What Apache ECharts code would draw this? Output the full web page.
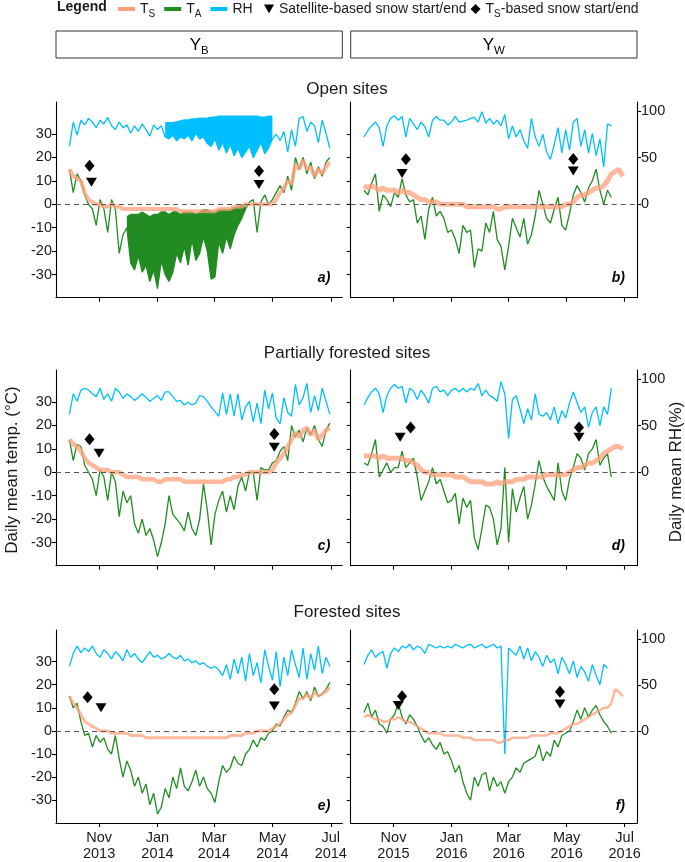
<!DOCTYPE html>
<html>
<head>
<meta charset="utf-8">
<script src="https://cdn.jsdelivr.net/npm/echarts@6/dist/echarts.min.js"></script>
<style>
  html, body { margin: 0; padding: 0; background: #fff; }
  #main { width: 685px; height: 862px; }
</style>
</head>
<body>
<div id="main"></div>
<script>
// values, one every 4th day starting 1 Oct
const stepDays = 4;
const startYB = [2013, 9, 1];
const startYW = [2015, 9, 1];

// ---- Y_B, open sites (a)
const taA = [15, 5, 13, 10, 4, 0, -2, -9, 2, -2, -12, 2, -2, -21, -13,
  -10, -25, -28, -22, -29, -26, -33, -28, -36, -24, -30, -33, -29, -21, -25, -18, -26, -15, -24, -21, -14, -20, -32, -31, -16, -21, -14, -19, -13, -9, -6, -2,
  1, 2, -12, 1, 4, 0, 2, 5, 8, 5, 12, 6, 20, 15, 20, 13, 18, 11, 16, 12, 18, 20];
const taAUpper = [-5, -4, -4, -4, -3, -4, -5, -4, -4, -3, -3, -4, -3, -3, -4, -3, -3, -3, -4, -3, -2, -2, -3, -3, -2, -2, -2, -2, -1, -1, 0, 0];
const tsA = [15, 12, 11, 10, 5, 2, 1, 0, 0, -1, -1, 0, -1, -1, -2, -2, -2, -2, -2, -2,
  -2, -2, -2, -2, -2, -2, -2, -2, -2, -3, -3, -3, -3, -3, -3, -3, -3, -3, -3, -2,
  -2, -2, -2, -1, -1, -1, 0, 0, 0, 0, 0, 0, 0, 0, 2, 5, 7, 10, 9, 17,
  15, 19, 15, 16, 12, 15, 13, 16, 18];
const rhA = [62, 88, 74, 90, 85, 92, 88, 82, 90, 86, 93, 84, 80, 88, 82, 85, 76, 84, 78, 86,
  80, 73, 85, 80, 84, 72, 70, 74, 68, 72, 70, 74, 68, 76, 70, 72, 65, 62, 70, 58,
  66, 55, 64, 52, 60, 50, 56, 62, 50, 58, 66, 54, 60, 70, 75, 68, 78, 56, 80, 62,
  92, 94, 78, 88, 84, 66, 90, 76, 60];
const rhAUpper = [88, 88, 88, 89, 90, 91, 91, 92, 92, 93, 93, 93, 94, 94, 95, 95, 95, 95, 95, 95, 95, 95, 95, 95, 95, 94, 94, 95, 95];
const satA = [['2013-10-24', 9.4], ['2014-04-17', 8.5]];
const tsSnowA = [['2013-10-22', 16.5], ['2014-04-17', 14.2]];

// ---- Y_W, open sites (b)
const taB = [6, 4, 9, 13, -3, 4, 2, -1, 5, 3, 11, 4, 1, 2, -8, -5, -15, -2, 3, -5,
  -3, -6, -12, -11, -15, -21, -9, -12, -11, -27, -19, -20, -8, -12, -3, -15, -18, -28, -18, -6,
  -10, -14, -6, -17, -13, -5, 6, 0, -6, -8, -2, 3, -9, -11, -4, 4, 8, 5, 1, 7,
  10, 15, 6, 0, 6, 3];
const tsB = [8, 7, 8, 7, 6, 7, 6, 6, 6, 5, 6, 5, 5, 4, 3, 2, 2, 1, 1, 1,
  0, 0, 0, 0, 0, 0, 0, -1, -1, -1, -1, -1, -1, -1, -1, -2, -2, -1, -1, -1,
  -1, -1, -1, -1, -1, -1, -1, -1, -1, -1, -1, -1, -1, 0, 0, 1, 3, 4, 4, 5,
  6, 7, 7, 8, 10, 13, 14, 15, 12];
const rhB = [72, 79, 84, 88, 82, 62, 84, 92, 95, 90, 94, 72, 92, 86, 80, 88, 83, 72, 90, 94,
  90, 90, 85, 88, 94, 88, 89, 90, 92, 93, 88, 99, 87, 92, 86, 90, 84, 96, 70, 84,
  72, 80, 68, 60, 92, 72, 62, 75, 56, 48, 64, 82, 55, 80, 58, 88, 92, 62, 80, 55,
  76, 52, 70, 40, 86, 84];
const satB = [['2015-11-10', 13.2], ['2016-05-08', 14.2]];
const tsSnowB = [['2015-11-14', 19.2], ['2016-05-08', 19.4]];

// ---- Y_B, partially forested (c)
const taC = [14, 5, 12, 11, 3, 0, -3, -10, 1, -2, -12, 0, -4, -19, -8, -13, -10, -22, -26, -20,
  -27, -24, -29, -36, -30, -22, -10, -18, -20, -22, -25, -17, -24, -27, -20, -5, -16, -31, -18, -12,
  -8, -17, -10, -16, -6, -2, -8, 0, 0, -12, 2, 1, 1, 4, 5, 9, 11, 5, 20, 15,
  18, 13, 19, 16, 20, 14, 11, 18, 21];
const tsC = [14, 12, 11, 9, 6, 4, 3, 2, 1, 1, 1, 0, 0, 0, -1, -2, -2, -2, -2, -3,
  -3, -3, -3, -4, -4, -3, -3, -3, -3, -3, -4, -4, -4, -4, -4, -4, -4, -4, -4, -4,
  -4, -3, -3, -2, -2, -1, -1, 0, 0, 0, 0, 0, 0, 1, 4, 6, 8, 11, 14, 17,
  15, 18, 19, 16, 18, 14, 16, 18, 19];
const rhC = [62, 84, 76, 88, 90, 88, 84, 81, 90, 78, 84, 76, 90, 86, 79, 84, 81, 77, 80, 84,
  80, 76, 79, 82, 77, 86, 86, 81, 76, 77, 72, 75, 72, 74, 82, 81, 76, 70, 65, 60,
  85, 62, 84, 60, 84, 56, 70, 76, 54, 74, 52, 88, 68, 85, 58, 52, 80, 64, 60, 94,
  72, 80, 95, 64, 82, 66, 90, 76, 62];
const satC = [['2013-11-01', 8.1], ['2014-05-03', 10.7]];
const tsSnowC = [['2013-10-22', 14.1], ['2014-05-03', 16.4]];

// ---- Y_W, partially forested (d)
const taD = [4, 3, 8, 14, -2, 1, 4, 0, 2, 2, 9, 2, 4, 6, -2, -12, -8, -4, 2, -5,
  -3, -8, -13, -12, -9, -22, -11, -15, -12, -28, -33, -24, -14, -15, -20, -31, -24, 2, -30, -7,
  -17, -11, -6, -20, -14, -5, 5, -2, -6, -9, -12, 4, -8, -12, -3, 2, 8, 6, 1, 8,
  10, 14, 3, 6, 8, -2];
const tsD = [7, 7, 7, 7, 6, 7, 6, 6, 6, 6, 6, 5, 5, 4, 3, 1, 0, 0, -1, -1,
  -1, -1, -1, -1, -2, -2, -2, -3, -4, -4, -4, -4, -5, -5, -5, -4, -5, -4, -4, -4,
  -3, -3, -3, -2, -2, -2, -2, -2, -1, -1, -1, -1, -1, -1, 0, 1, 2, 2, 3, 4,
  4, 5, 6, 8, 9, 10, 11, 11, 10];
const rhD = [72, 80, 86, 90, 84, 64, 82, 90, 94, 90, 92, 74, 90, 87, 78, 88, 82, 74, 90, 92,
  86, 88, 82, 88, 90, 86, 90, 86, 90, 88, 95, 82, 88, 82, 80, 76, 97, 84, 36, 78,
  82, 68, 52, 68, 56, 84, 62, 60, 64, 56, 70, 52, 66, 58, 74, 86, 75, 64, 70, 48,
  64, 70, 50, 70, 62, 90];
const satD = [['2015-11-08', 15], ['2016-05-14', 15]];
const tsSnowD = [['2015-11-19', 19.1], ['2016-05-14', 19.1]];

// ---- Y_B, forested (e)
const taE = [15, 10, 12, 4, -2, -1, -7, -2, -5, -3, -8, -10, -2, -12, -20, -13, -17, -24, -20, -27,
  -23, -32, -27, -36, -33, -25, -29, -20, -25, -16, -24, -26, -22, -17, -24, -20, -25, -27, -31, -22,
  -15, -18, -16, -11, -14, -15, -10, -8, -4, -7, -3, -4, -1, 0, 3, 2, 6, 9, 8, 12,
  17, 14, 17, 13, 19, 15, 16, 18, 21];
const tsE = [15, 12, 10, 7, 4, 3, 2, 1, 0, 0, 0, -1, -1, -1, -1, -1, -2, -2, -2, -2,
  -3, -3, -3, -3, -3, -3, -3, -3, -3, -3, -3, -3, -3, -3, -3, -3, -3, -3, -3, -3,
  -3, -3, -2, -2, -2, -2, -1, -1, -1, 0, 0, 0, 0, 1, 2, 3, 5, 7, 8, 11,
  14, 14, 16, 14, 17, 15, 16, 17, 19];
const rhE = [70, 84, 92, 85, 90, 86, 92, 84, 80, 88, 84, 78, 86, 82, 76, 88, 80, 84, 78, 74,
  80, 86, 80, 82, 78, 80, 84, 80, 78, 82, 76, 78, 74, 76, 72, 74, 70, 68, 70, 66,
  60, 72, 56, 78, 62, 80, 54, 84, 60, 74, 52, 88, 70, 55, 86, 48, 80, 60, 88, 72,
  58, 90, 56, 84, 66, 92, 62, 80, 70];
const satE = [['2013-11-03', 10], ['2014-05-03', 10.8]];
const tsSnowE = [['2013-10-20', 14.6], ['2014-05-03', 18]];

// ---- Y_W, forested (f)
const taF = [8, 12, 6, 9, 3, 2, -1, 5, 7, 12, 6, 3, 7, 5, 2, -2, -5, -3, -6, -8,
  -5, -10, -9, -13, -18, -15, -22, -27, -30, -20, -24, -19, -18, -26, -20, -24, -22, -27, -22, -20,
  -16, -18, -14, -13, -12, -11, -6, -13, -9, -11, -4, -7, -2, -1, 0, 4, 9, 5, 10, 6,
  9, 11, 7, 4, 2, -1];
const tsF = [6, 7, 6, 5, 5, 4, 4, 5, 5, 6, 5, 4, 4, 3, 2, 1, 0, -1, -1, -1,
  -1, -2, -2, -2, -2, -2, -3, -3, -3, -4, -4, -4, -4, -4, -4, -5, -5, -4, -4, -3,
  -3, -3, -3, -3, -2, -2, -2, -2, -2, -1, -1, -1, 0, 1, 2, 3, 3, 4, 5, 6,
  7, 8, 9, 10, 10, 12, 18, 17, 15];
const rhF = [72, 82, 88, 80, 84, 86, 68, 84, 90, 86, 92, 90, 94, 88, 92, 90, 84, 94, 92, 90,
  92, 90, 92, 90, 94, 92, 90, 93, 94, 90, 92, 94, 90, 92, 94, 90, 92, -25, 90, 86,
  82, 92, 78, 90, 76, 86, 80, 70, 82, 74, 78, 62, 80, 72, 62, 76, 58, 70, 64, 54,
  72, 60, 50, 72, 68];
const satF = [['2015-11-06', 11], ['2016-04-24', 11.7]];
const tsSnowF = [['2015-11-10', 15], ['2016-04-24', 17]];

const tempTicks = [-30, -20, -10, 0, 10, 20, 30];
const rhTicks = [0, 50, 100];
const monthNames = ['Jan', 'Feb', 'Mar', 'Apr', 'May', 'Jun', 'Jul', 'Aug', 'Sep', 'Oct', 'Nov', 'Dec'];

// layout
const FONT = '"Liberation Sans", Arial, sans-serif';
const colLeft = [56, 350.7];
const colWidth = 286.3;
const rowTop = [102, 370, 630];
const rowHeight = 195.7;
const TEMP_MIN = -39.9, TEMP_MAX = 43.7;
const RH_MIN = -100, RH_MAX = 109.5;

const C_TS = '#FFA07A', C_TA = '#228B22', C_RH = '#00BFFF';

function toTime(s) {
  const p = s.split('-').map(Number);
  return new Date(p[0], p[1] - 1, p[2]).getTime();
}
function dated(start, values, offset) {
  offset = offset || 0;
  return values.map(function (v, i) {
    return [new Date(start[0], start[1], start[2] + (i + offset) * stepDays).getTime(), v];
  });
}
function marks(list) {
  return list.map(function (m) { return [toTime(m[0]), m[1]]; });
}

const panels = [
  { key: 'a', row: 0, col: 0, start: startYB, ts: tsA, ta: taA, rh: rhA, sat: satA, tsSnow: tsSnowA, tsWidth: 4,
    taBand: { from: 15, upper: taAUpper }, rhBand: { from: 25, upper: rhAUpper } },
  { key: 'b', row: 0, col: 1, start: startYW, ts: tsB, ta: taB, rh: rhB, sat: satB, tsSnow: tsSnowB, tsWidth: 5 },
  { key: 'c', row: 1, col: 0, start: startYB, ts: tsC, ta: taC, rh: rhC, sat: satC, tsSnow: tsSnowC, tsWidth: 4.5 },
  { key: 'd', row: 1, col: 1, start: startYW, ts: tsD, ta: taD, rh: rhD, sat: satD, tsSnow: tsSnowD, tsWidth: 5 },
  { key: 'e', row: 2, col: 0, start: startYB, ts: tsE, ta: taE, rh: rhE, sat: satE, tsSnow: tsSnowE, tsWidth: 3 },
  { key: 'f', row: 2, col: 1, start: startYW, ts: tsF, ta: taF, rh: rhF, sat: satF, tsSnow: tsSnowF, tsWidth: 2.5 }
];

const windows = [
  [toTime('2013-09-17'), toTime('2014-07-13')],
  [toTime('2015-09-17'), toTime('2016-07-14')]
];
const monthTicks = [
  ['2013-11-01', '2014-01-01', '2014-03-01', '2014-05-01', '2014-07-01'].map(toTime),
  ['2015-11-01', '2016-01-01', '2016-03-01', '2016-05-01', '2016-07-01'].map(toTime)
];

// filled envelope between the drawn line (lower edge) and the read upper edge
function band(name, p, i, yIdx, lowerAll, b, color) {
  const lower = lowerAll.slice(b.from, b.from + b.upper.length);
  const pts = dated(p.start, lower, b.from).map(function (d, j) { return [d[0], d[1], b.upper[j]]; });
  return {
    name: name, type: 'custom', xAxisIndex: i, yAxisIndex: yIdx, data: pts, silent: true,
    encode: { x: 0, y: [1, 2] },
    renderItem: function (params, api) {
      if (params.dataIndex !== 0) return null;
      const top = pts.map(function (q) { return api.coord([q[0], q[2]]); });
      const bottom = pts.slice().reverse().map(function (q) { return api.coord([q[0], q[1]]); });
      return { type: 'polygon', shape: { points: top.concat(bottom) }, style: { fill: color } };
    }
  };
}

const axisLineStyle = { color: '#000', width: 1.1 };
const grid = [], xAxis = [], yAxis = [], series = [], graphic = [];

panels.forEach(function (p, i) {
  grid.push({ left: colLeft[p.col], top: rowTop[p.row], width: colWidth, height: rowHeight });
  xAxis.push({
    gridIndex: i, type: 'value', min: windows[p.col][0], max: windows[p.col][1],
    axisLine: { show: true, onZero: false, lineStyle: axisLineStyle },
    axisTick: { show: true, length: 4, customValues: monthTicks[p.col], lineStyle: axisLineStyle },
    axisLabel: {
      show: p.row === 2, customValues: monthTicks[p.col], fontSize: 14.5, fontFamily: FONT, color: '#1a1a1a',
      lineHeight: 16, margin: 7, hideOverlap: false,
      formatter: function (v) { const d = new Date(v); return monthNames[d.getMonth()] + '\n' + d.getFullYear(); }
    },
    splitLine: { show: false }
  });
  yAxis.push({
    gridIndex: i, type: 'value', min: TEMP_MIN, max: TEMP_MAX,
    axisLine: { show: true, onZero: false, lineStyle: axisLineStyle },
    axisTick: { show: true, length: 4, customValues: tempTicks, lineStyle: axisLineStyle },
    axisLabel: { show: p.col === 0, customValues: tempTicks, fontSize: 14.5, fontFamily: FONT, color: '#1a1a1a', margin: 4 },
    splitLine: { show: false }
  });
  yAxis.push({
    gridIndex: i, type: 'value', position: 'right', min: RH_MIN, max: RH_MAX, show: p.col === 1,
    axisLine: { show: true, onZero: false, lineStyle: axisLineStyle },
    axisTick: { show: true, length: 4, customValues: rhTicks, lineStyle: axisLineStyle },
    axisLabel: { customValues: rhTicks, fontSize: 14.5, fontFamily: FONT, color: '#1a1a1a', margin: 4 },
    splitLine: { show: false }
  });

  const tIdx = 2 * i, rIdx = 2 * i + 1;
  if (p.rhBand) series.push(band('RH band', p, i, rIdx, p.rh, p.rhBand, C_RH));
  series.push({
    name: 'RH', type: 'line', xAxisIndex: i, yAxisIndex: rIdx, data: dated(p.start, p.rh),
    symbol: 'none', color: C_RH, lineStyle: { width: 1.3 }
  });
  if (p.taBand) series.push(band('TA band', p, i, tIdx, p.ta, p.taBand, C_TA));
  series.push({
    name: 'TA', type: 'line', xAxisIndex: i, yAxisIndex: tIdx, data: dated(p.start, p.ta),
    symbol: 'none', color: C_TA, lineStyle: { width: 1.3 }
  });
  series.push({
    name: 'Ts', type: 'line', xAxisIndex: i, yAxisIndex: tIdx, data: dated(p.start, p.ts),
    symbol: 'none', color: C_TS, lineStyle: { width: p.tsWidth, opacity: 0.75 },
    markLine: {
      silent: true, symbol: 'none', label: { show: false },
      lineStyle: { color: '#555', type: [5, 4], width: 1 },
      data: [{ yAxis: 0 }]
    }
  });
  series.push({
    name: 'sat', type: 'scatter', xAxisIndex: i, yAxisIndex: tIdx, data: marks(p.sat),
    symbol: 'triangle', symbolRotate: 180, symbolSize: [11, 9], itemStyle: { color: '#000', opacity: 1 }, z: 5
  });
  series.push({
    name: 'tsSnow', type: 'scatter', xAxisIndex: i, yAxisIndex: tIdx, data: marks(p.tsSnow),
    symbol: 'diamond', symbolSize: [10, 12], itemStyle: { color: '#000', opacity: 1 }, z: 5
  });

  // panel letter
  graphic.push({
    type: 'text', x: colLeft[p.col] + colWidth - 12, y: rowTop[p.row] + 176,
    style: { text: p.key + ')', font: 'italic bold 14px ' + FONT, fill: '#000', align: 'right', verticalAlign: 'middle' }
  });
});

const subRich = {
  m: { fontSize: 14, fontFamily: FONT, color: '#1a1a1a', lineHeight: 20 },
  s: { fontSize: 10, fontFamily: FONT, color: '#1a1a1a', lineHeight: 10, verticalAlign: 'bottom' }
};
const stripRich = {
  m: { fontSize: 17, fontFamily: FONT, color: '#1a1a1a', lineHeight: 24 },
  s: { fontSize: 11.5, fontFamily: FONT, color: '#1a1a1a', lineHeight: 12, verticalAlign: 'bottom' }
};
const legendNames = {
  'Ts': '{m|T}{s|S}', 'TA': '{m|T}{s|A}', 'RH': '{m|RH}',
  'sat': '{m|Satellite-based snow start/end}', 'tsSnow': '{m|T}{s|S}{m|-based snow start/end}'
};

// strips and titles
[['B', 0], ['W', 1]].forEach(function (s) {
  graphic.push({
    type: 'rect', shape: { x: colLeft[s[1]], y: 31, width: colWidth, height: 27 },
    style: { fill: '#fff', stroke: '#333', lineWidth: 1 }
  });
  graphic.push({
    type: 'text', x: colLeft[s[1]] + colWidth / 2, y: 45,
    style: { text: '{m|Y}{s|' + s[0] + '}', rich: stripRich, align: 'center', verticalAlign: 'middle' }
  });
});
[['Open sites', 89], ['Partially forested sites', 353], ['Forested sites', 612]].forEach(function (t) {
  graphic.push({
    type: 'text', x: 347, y: t[1],
    style: { text: t[0], font: '17px ' + FONT, fill: '#1a1a1a', align: 'center', verticalAlign: 'middle' }
  });
});
graphic.push({
  type: 'text', x: 12, y: 470, rotation: Math.PI / 2,
  style: { text: 'Daily mean temp. (°C)', font: '17px ' + FONT, fill: '#1a1a1a', align: 'center', verticalAlign: 'middle' }
});
graphic.push({
  type: 'text', x: 676, y: 472, rotation: Math.PI / 2,
  style: { text: 'Daily mean RH(%)', font: '17px ' + FONT, fill: '#1a1a1a', align: 'center', verticalAlign: 'middle' }
});
graphic.push({
  type: 'text', x: 57, y: 7,
  style: { text: 'Legend', font: 'bold 14px ' + FONT, fill: '#1a1a1a', align: 'left', verticalAlign: 'middle' }
});

const myChart = echarts.init(document.getElementById('main'));
myChart.setOption({
  animation: false,
  textStyle: { fontFamily: FONT },
  legend: [
    {
      left: 113, top: -3, itemWidth: 17, itemHeight: 4, itemGap: 9, icon: 'rect',
      data: ['Ts', 'TA', 'RH'], selectedMode: false,
      formatter: function (n) { return legendNames[n]; },
      textStyle: { rich: subRich }
    },
    {
      left: 259, top: -3, itemWidth: 10, itemHeight: 10, itemGap: 4, selectedMode: false,
      data: [
        { name: 'sat', icon: 'path://M0,0L10,0L5,9Z' },
        { name: 'tsSnow', icon: 'path://M5,0L10,5L5,10L0,5Z' }
      ],
      formatter: function (n) { return legendNames[n]; },
      textStyle: { rich: subRich }
    }
  ],
  grid: grid,
  xAxis: xAxis,
  yAxis: yAxis,
  series: series,
  graphic: graphic
});
</script>
</body>
</html>
